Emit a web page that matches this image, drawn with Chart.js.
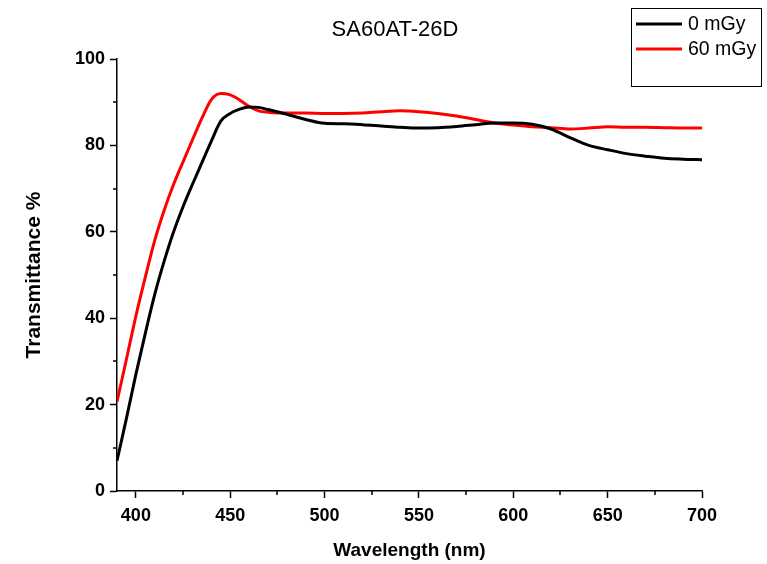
<!DOCTYPE html>
<html>
<head>
<meta charset="utf-8">
<script src="https://cdn.jsdelivr.net/npm/chart.js@4"></script>
<style>
  html, body { margin: 0; padding: 0; background: #fff; }
  #wrap { width: 767px; height: 564px; }
</style>
</head>
<body>
<div id="wrap"><canvas id="specChart" width="767" height="564"></canvas></div>
<script>
// wavelengths (nm) and transmittance (%)
const wavelengths = [390, 395, 400, 405, 410, 415, 420, 425, 430, 435, 440, 445, 450, 455, 460, 465, 470, 480, 490, 500,
    510, 520, 530, 540, 550, 560, 570, 580, 590, 600, 610, 620, 630, 640, 650, 660, 670, 680, 690, 700];
const dose0 = [7, 16.8, 27, 36.5, 45.5, 53.2, 60, 65.8, 71, 76, 81, 85.6, 87.4, 88.4, 88.9, 88.8, 88.3, 87.2, 86, 85.1,
    85, 84.8, 84.5, 84.2, 84, 84.1, 84.4, 84.8, 85.2, 85.2, 84.9, 83.8, 81.8, 80, 79, 78.1, 77.5, 77, 76.8, 76.7];
const dose60 = [20.7, 30.5, 40.5, 49.5, 58, 65, 71, 76.2, 81.3, 86.3, 90.6, 92, 91.7, 90.5, 89, 88, 87.7, 87.5, 87.5, 87.4,
    87.4, 87.5, 87.8, 88, 87.8, 87.4, 86.8, 86, 85.2, 84.7, 84.3, 84.1, 83.8, 84, 84.3, 84.2, 84.2, 84.1, 84, 84];
const seriesLabels = ['0 mGy', '60 mGy'];
const chartTitle = 'SA60AT-26D';
const xTicks = [400, 450, 500, 550, 600, 650, 700];
const xMinorTicks = [425, 475, 525, 575, 625, 675];
const yTicks = [0, 20, 40, 60, 80, 100];
const yMinorTicks = [10, 30, 50, 70, 90];

const FONT = 'Arial, "Liberation Sans", sans-serif';

function toPoints(ys) {
    return wavelengths.map(function(w, i) { return { x: w, y: ys[i] }; });
}

// small outward minor ticks on both axes
const minorTicks = {
    id: 'minorTicks',
    afterDraw: function(chart) {
        const ctx = chart.ctx;
        const xs = chart.scales.x, ys = chart.scales.y;
        ctx.save();
        ctx.strokeStyle = '#000';
        ctx.lineWidth = 1.5;
        ctx.beginPath();
        xMinorTicks.forEach(function(v) {
            const px = Math.round(xs.getPixelForValue(v));
            ctx.moveTo(px, ys.bottom);
            ctx.lineTo(px, ys.bottom + 4);
        });
        yMinorTicks.forEach(function(v) {
            const py = Math.round(ys.getPixelForValue(v));
            ctx.moveTo(xs.left, py);
            ctx.lineTo(xs.left - 4, py);
        });
        ctx.stroke();
        ctx.restore();
    }
};

// title sits a little left of the plot centre, so it is drawn by hand
const plotTitle = {
    id: 'plotTitle',
    afterDraw: function(chart) {
        const ctx = chart.ctx;
        ctx.save();
        ctx.font = '22px ' + FONT;
        ctx.fillStyle = '#000';
        ctx.textAlign = 'center';
        ctx.textBaseline = 'middle';
        ctx.fillText(chartTitle, 395, 30);
        ctx.restore();
    }
};

// boxed legend in the top right corner
const boxLegend = {
    id: 'boxLegend',
    afterDraw: function(chart) {
        const ctx = chart.ctx;
        ctx.save();
        ctx.strokeStyle = '#000';
        ctx.lineWidth = 1;
        ctx.strokeRect(631.5, 8.5, 130, 78);
        ctx.font = '19.5px ' + FONT;
        ctx.textBaseline = 'middle';
        chart.data.datasets.forEach(function(ds, i) {
            const y = 24 + i * 25;
            ctx.strokeStyle = ds.borderColor;
            ctx.lineWidth = 3;
            ctx.beginPath();
            ctx.moveTo(636, y);
            ctx.lineTo(682, y);
            ctx.stroke();
            ctx.fillStyle = '#000';
            ctx.fillText(ds.label, 688, y + 1);
        });
        ctx.restore();
    }
};

const ctx = document.getElementById('specChart').getContext('2d');
const chart = new Chart(ctx, {
    type: 'line',
    data: {
        datasets: [{
            label: seriesLabels[0],
            data: toPoints(dose0),
            borderColor: '#000000',
            borderWidth: 3,
            pointRadius: 0,
            tension: 0.4,
            cubicInterpolationMode: 'monotone'
        }, {
            label: seriesLabels[1],
            data: toPoints(dose60),
            borderColor: '#ff0000',
            borderWidth: 3,
            pointRadius: 0,
            tension: 0.4,
            cubicInterpolationMode: 'monotone'
        }]
    },
    options: {
        responsive: false,
        animation: false,
        layout: { padding: { left: 0, right: 65, top: 59, bottom: 0 } },
        plugins: {
            legend: { display: false },
            tooltip: { enabled: false },
            title: { display: false }
        },
        scales: {
            x: {
                type: 'linear',
                min: 390,
                max: 700,
                afterBuildTicks: function(scale) {
                    scale.ticks = xTicks.map(function(v) { return { value: v }; });
                },
                afterFit: function(scale) { scale.height = 73; },
                border: { display: true, color: '#000', width: 1.5 },
                grid: { drawOnChartArea: false, drawTicks: true, tickLength: 7, tickWidth: 1.5, tickColor: '#000' },
                ticks: {
                    color: '#000',
                    padding: 7,
                    maxRotation: 0,
                    font: { family: FONT, size: 18, weight: 'bold' }
                },
                title: {
                    display: true,
                    text: 'Wavelength (nm)',
                    color: '#000',
                    font: { family: FONT, size: 19, weight: 'bold' },
                    padding: { top: 0, bottom: 2 }
                }
            },
            y: {
                min: 0,
                max: 100,
                afterBuildTicks: function(scale) {
                    scale.ticks = yTicks.map(function(v) { return { value: v }; });
                },
                afterFit: function(scale) { scale.width = 117; },
                border: { display: true, color: '#000', width: 1.5 },
                grid: { drawOnChartArea: false, drawTicks: true, tickLength: 7, tickWidth: 1.5, tickColor: '#000' },
                ticks: {
                    color: '#000',
                    padding: 5,
                    font: { family: FONT, size: 18, weight: 'bold' }
                },
                title: {
                    display: true,
                    text: 'Transmittance %',
                    color: '#000',
                    font: { family: FONT, size: 21, weight: 'bold' },
                    padding: { top: 22, bottom: 0 }
                }
            }
        }
    },
    plugins: [minorTicks, plotTitle, boxLegend]
});
</script>
</body>
</html>
